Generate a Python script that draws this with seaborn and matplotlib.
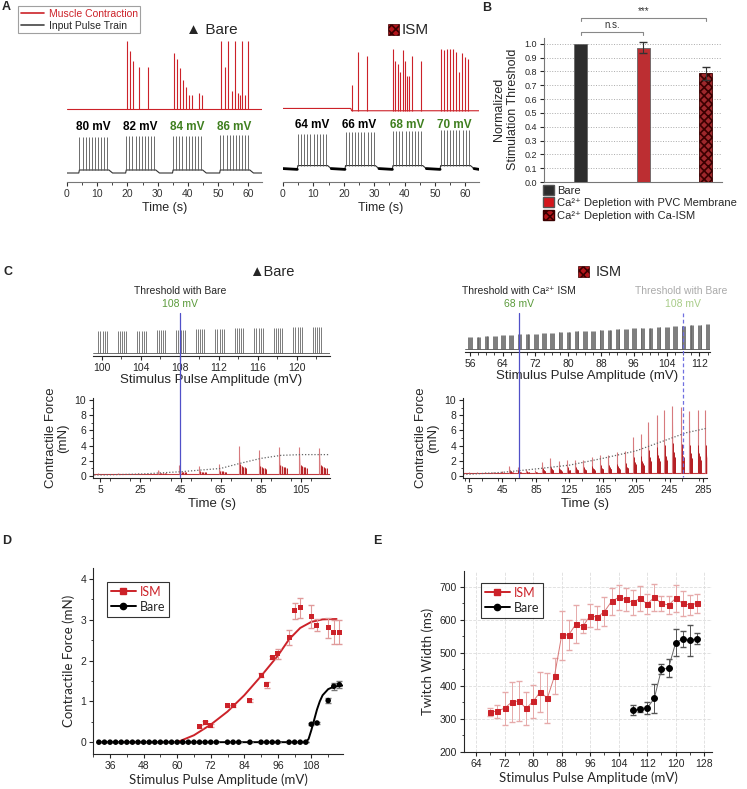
import matplotlib.pyplot as plt
from matplotlib.lines import Line2D
from matplotlib.patches import Patch, Rectangle
from matplotlib.ticker import MultipleLocator
import numpy as np
import pandas as pd
import seaborn as sns

# ---------------- data ----------------
# A: stimulation trains (s) and muscle twitches (normalised height)
a_t_end = 64.5
a_pulses_per_train = 10
a_pulse_period = 1.03
a_bare_amps = [80, 82, 84, 86]
a_bare_train_on = [4.1, 19.6, 35.1, 50.7]
a_bare_threshold = 84
a_ism_amps = [64, 66, 68, 70]
a_ism_train_on = [4.9, 20.6, 36.2, 51.9]
a_ism_threshold = 68

a_bare_twitch_t = [19.8, 20.8, 21.9, 23.9, 26.9, 35.5, 36.3, 37.5, 38.4, 39.4, 40.5, 41.5,
                   43.5, 44.6, 51.1, 52.2, 53.3, 54.7, 55.5, 56.4, 57.3, 58.0, 58.9, 59.9]
a_bare_twitch_h = [1.0, 0.85, 0.70, 0.62, 0.62, 0.82, 0.74, 0.60, 0.43, 0.32, 0.21, 0.21,
                   0.23, 0.21, 1.0, 0.62, 1.0, 0.26, 1.0, 0.24, 0.20, 1.0, 0.20, 1.0]
a_ism_twitch_t = [22.7, 24.7, 27.7, 36.3, 36.9, 37.7, 38.5, 39.4, 40.1, 40.8, 41.6, 42.3,
                  45.5, 52.0, 53.0, 53.9, 54.9, 55.9, 57.0, 58.0, 59.0, 60.0, 61.0]
a_ism_twitch_h = [0.40, 0.92, 0.86, 0.96, 0.77, 0.73, 0.60, 0.94, 0.78, 0.54, 0.54, 0.85,
                  0.77, 0.96, 0.95, 0.96, 0.96, 0.96, 0.92, 0.60, 0.90, 0.84, 0.80]

# B: normalised stimulation threshold
b_groups = ['Bare', 'Ca²⁺ Depletion with PVC Membrane', 'Ca²⁺ Depletion with Ca-ISM']
b_values = [1.0, 0.97, 0.785]
b_errors = [0.0, 0.04, 0.05]

# C: stimulus ramps and contractile force
c_bare_amps = [100, 102, 104, 106, 108, 110, 112, 114, 116, 118, 120, 122]
c_bare_onsets = [4, 14, 24, 34, 44, 54, 64, 74, 84, 94, 104, 114]
c_bare_peaks = [0.1, 0.15, 0.2, 0.6, 1.2, 1.1, 1.4, 3.7, 3.2, 3.6, 3.6, 3.5]
c_bare_profile = [1.0, 0.35, 0.3, 0.27, 0.25, 0.22]
c_bare_fit_t = [2, 5, 25, 45, 65, 74, 85, 95, 105, 119]
c_bare_fit_f = [0.1, 0.1, 0.22, 0.53, 0.97, 1.6, 2.3, 2.7, 2.8, 2.8]
c_bare_threshold = 108

c_ism_amps = [56, 58, 60, 62, 64, 66, 68, 70, 72, 74, 76, 78, 80, 82, 84,
              86, 88, 90, 92, 94, 96, 98, 100, 102, 104, 106, 108, 110, 112, 114]
c_ism_onsets = [4.5, 14.2, 24.1, 34.1, 44.1, 53.3, 63.3, 73.2, 84.0, 92.7, 102.3, 112.3, 122.3, 132.2, 141.8,
                151.8, 161.8, 171.7, 181.7, 191.7, 201.6, 210.4, 219.6, 229.6, 238.3, 248.3, 258.7, 268.6, 278.6, 287.4]
c_ism_peaks = [0.15, 0.2, 0.2, 0.2, 0.3, 1.0, 0.9, 0.6, 0.5, 1.5, 2.0, 1.7, 1.8, 1.8, 1.8,
               2.2, 2.5, 2.5, 2.9, 3.0, 4.8, 5.2, 6.8, 7.8, 8.4, 8.9, 8.8, 8.3, 8.4, 8.4]
c_ism_profile = [1.0, 0.45, 0.32, 0.27, 0.25, 0.22]
c_ism_fit_t = [-2, 5, 45, 85, 125, 165, 205, 245, 265, 290]
c_ism_fit_f = [0.2, 0.2, 0.45, 0.9, 1.4, 2.3, 3.3, 4.9, 5.7, 6.3]
c_ism_threshold = 68

# D: contractile force vs stimulus amplitude
d_ism_x = [68, 70, 72, 78, 80, 86, 90, 92, 94, 96, 100, 102, 104, 108, 110, 114, 116, 118]
d_ism_y = [0.38, 0.48, 0.41, 0.89, 0.89, 1.02, 1.64, 1.41, 2.07, 2.17, 2.57, 3.22, 3.29, 3.08, 2.87, 2.80, 2.70, 2.70]
d_ism_err = [0.03, 0.03, 0.03, 0.03, 0.03, 0.04, 0.05, 0.07, 0.04, 0.12, 0.18, 0.20, 0.25, 0.28, 0.15, 0.25, 0.30, 0.30]
d_bare_x = [32, 34, 36, 38, 40, 42, 44, 46, 48, 50, 52, 54, 56, 58, 60, 62, 64, 66, 68, 70, 72, 74,
            78, 80, 82, 86, 90, 92, 94, 96, 100, 102, 104, 106, 108, 110, 114, 116, 118]
d_bare_y = [0, 0, 0, 0, 0, 0, 0, 0, 0, 0, 0, 0, 0, 0, 0, 0, 0, 0, 0, 0, 0, 0,
            0, 0, 0, 0, 0, 0, 0, 0, 0, 0, 0, 0, 0.44, 0.47, 1.02, 1.37, 1.41]
d_bare_err = [0, 0, 0, 0, 0, 0, 0, 0, 0, 0, 0, 0, 0, 0, 0, 0, 0, 0, 0, 0, 0, 0,
              0, 0, 0, 0, 0, 0, 0, 0, 0, 0, 0, 0, 0.03, 0.03, 0.06, 0.08, 0.08]
d_ism_fit_x = [32, 60, 66, 72, 78, 84, 90, 96, 100, 104, 108, 112, 117]
d_ism_fit_y = [0, 0, 0.17, 0.43, 0.75, 1.15, 1.62, 2.12, 2.52, 2.80, 2.95, 3.01, 3.02]
d_bare_fit_x = [32, 106, 107, 108, 109, 110, 111, 112, 114, 116, 119.3]
d_bare_fit_y = [0, 0, 0.08, 0.3, 0.55, 0.8, 1.0, 1.15, 1.3, 1.36, 1.39]

# E: twitch width vs stimulus amplitude
e_ism_x = [68, 70, 72, 74, 76, 78, 80, 82, 84, 86, 88, 90, 92, 94, 96, 98, 100,
           102, 104, 106, 108, 110, 112, 114, 116, 118, 120, 122, 124, 126]
e_ism_y = [322, 323, 333, 351, 355, 332, 353, 382, 363, 430, 553, 555, 587, 581, 613, 608, 625,
           656, 668, 662, 653, 665, 648, 668, 650, 645, 665, 650, 645, 650]
e_ism_err = [12, 20, 50, 60, 60, 50, 50, 60, 75, 55, 75, 45, 58, 22, 35, 35, 45,
             40, 38, 35, 38, 38, 30, 42, 22, 28, 42, 38, 30, 28]
e_bare_x = [108, 110, 112, 114, 116, 118, 120, 122, 124, 126]
e_bare_y = [327, 329, 333, 362, 450, 454, 531, 542, 538, 543]
e_bare_err = [15, 8, 18, 43, 15, 28, 40, 25, 47, 17]

# ---------------- style ----------------
W, H = 747, 789
RED = '#cc2229'
GREEN = '#3f7f1f'
sns.set_theme(style='ticks')
plt.rcParams['font.family'] = ['Liberation Sans', 'DejaVu Sans']
plt.rcParams.update({'axes.linewidth': 0.8, 'xtick.major.width': 0.8, 'ytick.major.width': 0.8,
                     'xtick.minor.width': 0.6, 'ytick.minor.width': 0.6,
                     'xtick.major.size': 3, 'ytick.major.size': 3,
                     'xtick.minor.size': 1.8, 'ytick.minor.size': 1.8,
                     'xtick.labelsize': 7.5, 'ytick.labelsize': 7.5,
                     'xtick.major.pad': 2, 'ytick.major.pad': 2, 'hatch.linewidth': 1.2})
LATO = ['Lato', 'DejaVu Sans']

fig = plt.figure(figsize=(W / 100, H / 100), dpi=100)


def px_axes(x0, y0, x1, y1):
    return fig.add_axes([x0 / W, 1 - y1 / H, (x1 - x0) / W, (y1 - y0) / H])


def ftext(x, y, s, **kw):
    kw.setdefault('ha', 'center')
    kw.setdefault('va', 'center')
    fig.text(x / W, 1 - y / H, s, **kw)


def hatch_square(x, y, w, h):
    fig.add_artist(Rectangle((x / W, 1 - (y + h) / H), w / W, h / H, transform=fig.transFigure,
                             facecolor='#b3141a', edgecolor='#3a0000', hatch='xxxx', lw=0.5))


def fig_x(ax, xval):
    return fig.transFigure.inverted().transform(ax.transData.transform((xval, 0)))[0]


# ---------------- A ----------------
def pulse_panel(ax, train_on, amps, gain, threshold, label_y, tw_t, tw_h, red_level, red_scale, heavy):
    bx, by = [0.0], [0.0]
    for on in train_on:
        off = on + (a_pulses_per_train - 1) * a_pulse_period + 0.5
        bx += [on - 0.2, on, off, off + 1.2]
        by += [0.0, 3.0, 3.0, 0.0]
    bx.append(a_t_end)
    by.append(0.0)
    ax.plot(bx, by, color='#333', lw=0.8)
    if heavy:
        starts = [0.0] + [on + (a_pulses_per_train - 1) * a_pulse_period + 1.7 for on in train_on]
        ends = [on - 0.2 for on in train_on] + [a_t_end]
        for s, e in zip(starts, ends):
            ax.plot([s, e], [0, -0.8], color='black', lw=2.0)
    for on, amp in zip(train_on, amps):
        ts = on + a_pulse_period * np.arange(a_pulses_per_train)
        ax.vlines(ts, 3.0, 3.0 + amp * gain, color='#555', lw=0.6)
        ax.text(on + 4.6, label_y, f'{amp} mV', ha='center', va='center', fontsize=8.5,
                fontweight='bold', color=GREEN if amp >= threshold else 'black')
    rx, ry = zip(*red_level)
    ax.plot(rx, ry, color=RED, lw=0.8)
    base = np.interp(tw_t, rx, ry)
    ax.vlines(tw_t, base, base + np.array(tw_h) * red_scale, color=RED, lw=0.8)
    ax.set_xlim(0, a_t_end)
    sns.despine(ax=ax, left=True)
    ax.set_yticks([])
    ax.set_xticks(range(0, 61, 10))
    ax.xaxis.set_minor_locator(MultipleLocator(5))
    ax.spines['bottom'].set_color('#777')
    ax.tick_params(colors='#333')
    ax.set_xlabel('Time (s)', fontsize=9, labelpad=2)


axa1 = px_axes(67, 35, 262, 182)
pulse_panel(axa1, a_bare_train_on, a_bare_amps, 0.41, a_bare_threshold, 46,
            a_bare_twitch_t, a_bare_twitch_h, [(0, 64), (a_t_end, 64)], 68, False)
axa1.set_ylim(-9, 138)
axa2 = px_axes(283, 35, 479, 182)
pulse_panel(axa2, a_ism_train_on, a_ism_amps, 0.5, a_ism_threshold, 43,
            a_ism_twitch_t, a_ism_twitch_h, [(0, 60), (22.3, 60), (22.6, 57.7), (a_t_end, 57.7)], 64, True)
axa2.set_ylim(-13.4, 133.3)

fig.legend(handles=[Line2D([0], [0], color=RED, lw=1.2), Line2D([0], [0], color='#444', lw=1.2)],
           labels=['Muscle Contraction', 'Input Pulse Train'], loc='upper left',
           bbox_to_anchor=(18 / W, 1 - 6 / H), fontsize=7.5, frameon=True, fancybox=False,
           edgecolor='#888', handlelength=2.2, handletextpad=0.5, borderpad=0.25,
           labelspacing=0.2, borderaxespad=0)
leg = fig.legends[-1]
leg.get_texts()[0].set_color(RED)
leg.get_frame().set_linewidth(0.8)
ftext(212, 30, '\u25b2 Bare', fontsize=11)
hatch_square(388, 24, 11, 11)
ftext(402, 30, 'ISM', fontsize=11, ha='left')

# ---------------- B ----------------
axb = px_axes(544, 37.5, 722, 182)
dfb = pd.DataFrame({'group': b_groups, 'value': b_values})
b_colors = ['#2d2d2d', '#d4161c', '#b3141a']
sns.barplot(data=dfb, x='group', y='value', hue='group', palette=b_colors, width=0.21,
            ax=axb, legend=False, edgecolor='#666', linewidth=0.6, zorder=3)
axb.patches[2].set_hatch('xxxx')
axb.patches[2].set_edgecolor('#3a0000')
for i, (v, e) in enumerate(zip(b_values, b_errors)):
    if e > 0:
        axb.errorbar(i, v, yerr=e, fmt='none', ecolor='#333', capsize=3, lw=0.8, zorder=4)
axb.set_xlim(-0.59, 2.26)
axb.set_ylim(0, 1.045)
axb.set_yticks(np.arange(0, 1.01, 0.1))
axb.set_yticklabels([f'{t:.1f}' for t in np.arange(0, 1.01, 0.1)], fontsize=6.5)
axb.set_xticks([])
axb.set_xlabel('')
axb.yaxis.grid(True, ls=':', color='#aaa', lw=0.7)
axb.set_axisbelow(True)
sns.despine(ax=axb)
for s in ['left', 'bottom']:
    axb.spines[s].set_color('#777')
axb.set_ylabel('Normalized\nStimulation Threshold', fontsize=9, labelpad=4)


def bracket(x0, x1, y, text):
    axb.plot([x0, x0, x1, x1], [y - 0.025, y, y, y - 0.025], color='#888', lw=0.8, clip_on=False)
    axb.text((x0 + x1) / 2, y + 0.012, text, ha='center', va='bottom', fontsize=7, color='#333')


bracket(0, 1, 1.086, 'n.s.')
bracket(0, 2, 1.187, '***')
fig.legend(handles=[Patch(facecolor=b_colors[0], edgecolor='#555'),
                    Patch(facecolor=b_colors[1], edgecolor='#555'),
                    Patch(facecolor=b_colors[2], edgecolor='#3a0000', hatch='xxxx')],
           labels=b_groups, loc='upper left', bbox_to_anchor=(543 / W, 1 - 185 / H), frameon=False,
           fontsize=8, handlelength=1.0, handleheight=1.0, handletextpad=0.3, labelspacing=0.15,
           borderpad=0, borderaxespad=0)


# ---------------- C ----------------
def stim_panel(ax, amps, xlim, major, ylim):
    for amp in amps:
        xs = np.linspace(amp - 0.35, amp + 0.5, 5)
        ax.vlines(xs, 0, amp * 0.215, color='#666', lw=0.6)
    ax.axhline(0, color='#555', lw=0.6)
    ax.set_xlim(*xlim)
    ax.set_ylim(*ylim)
    sns.despine(ax=ax, left=True)
    ax.set_yticks([])
    ax.xaxis.set_major_locator(MultipleLocator(major))
    ax.xaxis.set_minor_locator(MultipleLocator(2))
    ax.set_xlabel('Stimulus Pulse Amplitude (mV)', fontsize=9.5, labelpad=1)


def force_panel(ax, onsets, peaks, profile, base, fit_t, fit_f, xlim, major, minor):
    ax.plot([xlim[0], xlim[1]], [base, base], color='#c0393e', lw=0.8)
    for on, pk in zip(onsets, peaks):
        ts = on + 0.75 * np.arange(len(profile))
        hs = base + pk * np.array(profile)
        ax.fill_between(ts, base, hs, color='#f2c4c4', lw=0)
        ax.vlines(ts[:1], base, hs[:1], color='#d77a7e', lw=0.8)
        ax.vlines(ts[1:], base, hs[1:], color='#b52025', lw=0.7)
    sns.lineplot(x=fit_t, y=fit_f, ax=ax, color='#666', lw=0.9, linestyle=(0, (1, 1.5)))
    ax.set_xlim(*xlim)
    ax.set_ylim(-0.3, 10.3)
    sns.despine(ax=ax)
    ax.set_yticks(range(0, 11, 2))
    ax.yaxis.set_minor_locator(MultipleLocator(1))
    ax.set_xticks(range(5, int(xlim[1]), major))
    ax.xaxis.set_minor_locator(MultipleLocator(minor))
    ax.set_xlabel('Time (s)', fontsize=9.5, labelpad=2)


axc1 = px_axes(93, 310, 330, 356)
stim_panel(axc1, c_bare_amps, (99.1, 123.4), 4, (-3, 43))
axc2 = px_axes(93, 398, 330, 478)
force_panel(axc2, c_bare_onsets, c_bare_peaks, c_bare_profile, 0.2, c_bare_fit_t, c_bare_fit_f,
            (1.4, 119.4), 20, 10)
axc2.set_ylabel('Contractile Force\n(mN)', fontsize=9.5, labelpad=4, linespacing=1.0)

axc3 = px_axes(465, 310, 710, 352)
stim_panel(axc3, c_ism_amps, (54.8, 114.6), 8, (-3, 39))
axc4 = px_axes(463, 398, 707, 478)
force_panel(axc4, c_ism_onsets, c_ism_peaks, c_ism_profile, 0.3, c_ism_fit_t, c_ism_fit_f,
            (-2.2, 289.8), 40, 20)
axc4.set_ylabel('Contractile Force\n(mN)', fontsize=9.5, labelpad=4, linespacing=1.0)

fx = fig_x(axc1, c_bare_threshold)
fig.add_artist(Line2D([fx, fx], [1 - 313 / H, 1 - 477 / H], transform=fig.transFigure, color='#5050c8', lw=0.9))
ftext(fx * W, 291, 'Threshold with Bare', fontsize=7.5)
ftext(fx * W, 304, f'{c_bare_threshold} mV', fontsize=7.5, color='#5a9a3a')

fx = fig_x(axc3, c_ism_threshold)
fig.add_artist(Line2D([fx, fx], [1 - 313 / H, 1 - 477 / H], transform=fig.transFigure, color='#5050c8', lw=0.9))
ftext(fx * W, 291, 'Threshold with Ca²⁺ ISM', fontsize=7.5)
ftext(fx * W, 304, f'{c_ism_threshold} mV', fontsize=7.5, color='#5a9a3a')

fx = fig_x(axc3, c_bare_threshold)
fig.add_artist(Line2D([fx, fx], [1 - 313 / H, 1 - 477 / H], transform=fig.transFigure, color='#7070e0',
                      lw=0.9, ls=(0, (3, 2))))
ftext(fx * W - 2, 291, 'Threshold with Bare', fontsize=7.5, color='#aaaaaa')
ftext(fx * W, 304, f'{c_bare_threshold} mV', fontsize=7.5, color='#a8cc88')

ftext(272, 272, '\u25b2Bare', fontsize=10.5)
hatch_square(578, 266, 11, 11)
ftext(596, 272, 'ISM', fontsize=10.5, ha='left')

# ---------------- D ----------------
axd = px_axes(93, 568, 343, 754)
sns.lineplot(x=d_ism_fit_x, y=d_ism_fit_y, ax=axd, color=RED, lw=1.4)
sns.lineplot(x=d_bare_fit_x, y=d_bare_fit_y, ax=axd, color='black', lw=1.4)
axd.errorbar(d_ism_x, d_ism_y, yerr=d_ism_err, fmt='none', ecolor='#e09a9a', capsize=2.5, lw=0.8)
sns.scatterplot(x=d_ism_x, y=d_ism_y, ax=axd, marker='s', color=RED, s=13, edgecolor='none', zorder=4)
axd.errorbar(d_bare_x, d_bare_y, yerr=d_bare_err, fmt='none', ecolor='#777', capsize=2.5, lw=0.8)
sns.scatterplot(x=d_bare_x, y=d_bare_y, ax=axd, marker='o', color='black', s=16, edgecolor='none', zorder=5)
axd.set_xlim(29.9, 119.3)
axd.set_ylim(-0.29, 4.27)
axd.set_xticks(range(36, 109, 12))
axd.xaxis.set_minor_locator(MultipleLocator(6))
axd.set_yticks(range(0, 5))
axd.yaxis.set_minor_locator(MultipleLocator(0.5))
sns.despine(ax=axd)
axd.set_xlabel('Stimulus Pulse Amplitude (mV)', fontsize=9.5, family=LATO, labelpad=2)
axd.set_ylabel('Contractile Force (mN)', fontsize=9.5, family=LATO, labelpad=4)
legd = axd.legend(handles=[Line2D([0], [0], color=RED, lw=1.4, marker='s', markersize=4),
                           Line2D([0], [0], color='black', lw=1.4, marker='o', markersize=4.5)],
                  labels=['ISM', 'Bare'], loc='upper left', bbox_to_anchor=(0.056, 0.925),
                  frameon=True, fancybox=False, edgecolor='black', prop={'family': LATO, 'size': 9},
                  handlelength=2.0, handletextpad=0.3, borderpad=0.3, labelspacing=0.25, borderaxespad=0)
legd.get_texts()[0].set_color(RED)
legd.get_frame().set_linewidth(0.8)

# ---------------- E ----------------
axe = px_axes(464, 571, 712, 752)
axe.errorbar(e_ism_x, e_ism_y, yerr=e_ism_err, fmt='none', ecolor='#e6aaaa', capsize=2, lw=0.7)
sns.lineplot(x=e_ism_x, y=e_ism_y, ax=axe, color='#d87878', lw=0.7, marker='s', markersize=3.6,
             markerfacecolor=RED, markeredgecolor=RED)
axe.errorbar(e_bare_x, e_bare_y, yerr=e_bare_err, fmt='none', ecolor='#555', capsize=2, lw=0.7)
sns.lineplot(x=e_bare_x, y=e_bare_y, ax=axe, color='#666', lw=0.7, marker='o', markersize=4.2,
             markerfacecolor='black', markeredgecolor='black')
axe.set_xlim(60.6, 130.2)
axe.set_ylim(200, 748)
axe.set_xticks(range(64, 129, 8))
axe.xaxis.set_minor_locator(MultipleLocator(4))
axe.set_yticks(range(200, 701, 100))
axe.yaxis.set_minor_locator(MultipleLocator(50))
axe.grid(True, ls='--', color='#dddddd', lw=0.6)
sns.despine(ax=axe)
axe.set_xlabel('Stimulus Pulse Amplitude (mV)', fontsize=9.5, family=LATO, labelpad=2)
axe.set_ylabel('Twitch Width (ms)', fontsize=9.5, family=LATO, labelpad=4)
lege = axe.legend(handles=[Line2D([0], [0], color=RED, lw=1.4, marker='s', markersize=4),
                           Line2D([0], [0], color='black', lw=1.4, marker='o', markersize=4.5)],
                  labels=['ISM', 'Bare'], loc='upper left', bbox_to_anchor=(0.069, 0.934),
                  frameon=True, fancybox=False, edgecolor='black', prop={'family': LATO, 'size': 9},
                  handlelength=2.0, handletextpad=0.3, borderpad=0.3, labelspacing=0.25, borderaxespad=0)
lege.get_texts()[0].set_color(RED)
lege.get_frame().set_linewidth(0.8)

# panel letters
for letter, (x, y) in {'A': (6, 7), 'B': (487, 8), 'C': (8, 272), 'D': (7, 541), 'E': (377, 541)}.items():
    ftext(x, y, letter, fontsize=9, fontweight='bold')

fig.savefig('out.png', dpi=100)
